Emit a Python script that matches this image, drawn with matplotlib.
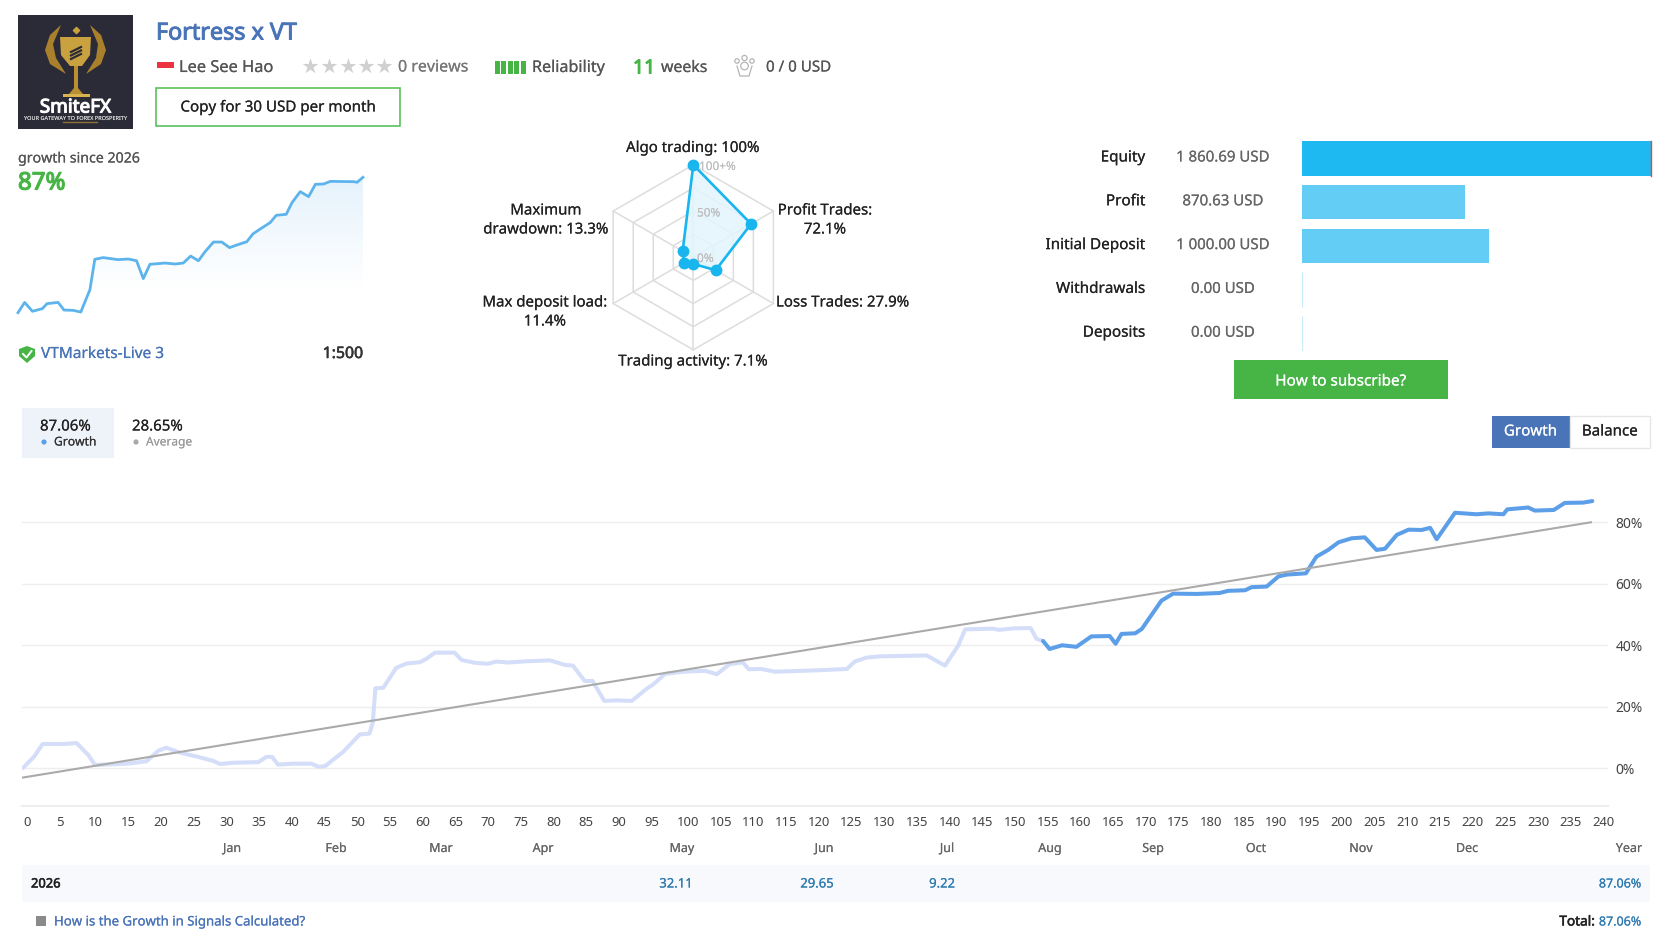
import numpy as np
import matplotlib
matplotlib.use('Agg')
import matplotlib.pyplot as plt
import matplotlib.patheffects as pe
from matplotlib.patches import Rectangle, Polygon, Circle

plt.rcParams['font.family'] = ['Noto Sans', 'DejaVu Sans']

W, H = 1672, 941

# main chart
growth_x = [0, 1.7, 3, 4.6, 6.2, 8.2, 10, 11, 13.8, 16.4, 18.9, 20.7, 21.9, 24, 26.6, 29.1, 30.1, 32.2,
            36, 37.2, 38.1, 39, 41.3, 44.1, 45.2, 46.2, 49, 51.5, 53, 53.5, 53.9, 55.1, 57.1, 58.7, 60.7,
            61.7, 63, 66, 67.1, 69.1, 71.1, 72.4, 74.2, 77, 80.6, 82.9, 84.1, 85.9, 87.1, 88.9, 90.8, 93.1,
            95.4, 96.4, 98.2, 101, 104.3, 106.1, 108.1, 110.1, 111, 112.9, 115, 121.9, 126, 127.2, 129,
            131.1, 138.2, 141, 143, 144.1, 148.4, 149.2, 151.5, 154.1, 155, 156, 157, 158.9, 161.1, 163.4,
            166.2, 167.1, 168, 170.1, 171.1, 174.1, 175.9, 179.5, 183, 184.3, 186.9, 187.9, 190.2, 192,
            193.3, 196.2, 197.8, 199.6, 201.2, 203.2, 205.2, 207, 208.3, 210.1, 211.9, 213.9, 215.2, 216.2,
            217.7, 219, 222.3, 224.1, 226.4, 227, 230.2, 231.2, 234.1, 235.8, 238.6, 240]
growth_y = [0.1, 3.8, 7.9, 7.9, 7.9, 8.2, 4.3, 1.1, 1.3, 1.6, 2.3, 5.7, 6.7, 5.1, 3.8, 2.4, 1.4, 1.8,
            2, 3.7, 3.7, 1.2, 1.5, 1.5, 0.5, 0.7, 5.4, 11, 11.3, 15, 26, 26.2, 32.7, 34.1, 34.5,
            35.6, 37.6, 37.6, 35.2, 34.3, 34, 34.7, 34.4, 34.8, 35.1, 33.6, 33.4, 28.4, 28.4, 21.9, 22.1, 21.9,
            25.9, 27.3, 30.7, 31.4, 31.7, 30.6, 33.9, 34.4, 32.2, 32.3, 31.4, 31.9, 32.3, 34.7, 36,
            36.4, 36.7, 33.4, 39.8, 45.2, 45.4, 45, 45.5, 45.6, 42.1, 41.4, 38.8, 40, 39.5, 42.9,
            43, 40.5, 43.7, 43.9, 45.3, 54.5, 56.8, 56.7, 57, 57.7, 57.9, 58.9, 59.1, 62.4,
            63, 63.4, 68.8, 71, 73.5, 74.8, 75.1, 71, 71.4, 75.9, 77.6, 77.5, 78.2, 74.5,
            79.1, 83.1, 82.6, 82.9, 82.6, 84.2, 84.8, 83.8, 84, 86.3, 86.4, 86.9]
split_x = 156
average_x = [0, 239.8]
average_y = [-3, 80]
x_ticks = list(range(0, 241, 5))
y_ticks = [0, 20, 40, 60, 80]
months = ['Jan', 'Feb', 'Mar', 'Apr', 'May', 'Jun', 'Jul', 'Aug', 'Sep', 'Oct', 'Nov', 'Dec', 'Year']
month_px = [232, 336, 441, 543, 682, 824, 947, 1050, 1153, 1256, 1361, 1467, 1629]

# small growth chart
mini_x = [0, 4.6, 10, 16.9, 20.1, 27.8, 31.9, 38.2, 43.5, 48.6, 49.8, 53.2, 59, 69.4, 76.4, 82.1, 86.8, 91.4,
          101.8, 108.8, 114.5, 119.6, 125, 129.6, 135.4, 141.2, 146.5, 151.6, 158.5, 162.7, 167.8, 174.7,
          178.9, 185.8, 189.8, 195.5, 201.3, 206, 211.7, 216.4, 232.6, 234.9, 239]
mini_y = [0, 6.6, 0.9, 2.6, 5.8, 6.6, 1.7, 1.5, 0.4, 12, 14.6, 34.3, 35.4, 34.1, 34.5, 33.4, 21.9, 31.1,
          31.9, 31.3, 31.9, 36.4, 33.4, 39.2, 45.4, 45.4, 41.8, 43.5, 45.6, 50.6, 53.8, 57.9,
          62.6, 63.2, 70.7, 77.8, 74.6, 82.5, 82.7, 84.4, 84.2, 83.8, 87]

# radar
radar_names = ['Algo trading', 'Profit Trades', 'Loss Trades', 'Trading activity', 'Max deposit load', 'Maximum drawdown']
radar_values = [100, 72.1, 27.9, 7.1, 11.4, 13.3]
radar_rings = [25, 50, 75, 100]

# account bars
bar_names = ['Equity', 'Profit', 'Initial Deposit', 'Withdrawals', 'Deposits']
bar_values = [1860.69, 870.63, 1000.00, 0.00, 0.00]
bar_labels = ['1 860.69 USD', '870.63 USD', '1 000.00 USD', '0.00 USD', '0.00 USD']

BLUE = '#4a74b8'
GREEN = '#46b546'
DARK = '#333333'
GREY = '#666666'
SIZE = 10.9


def px_axes(left, top, right, bottom, **kw):
    return fig.add_axes([left / W, 1 - bottom / H, (right - left) / W, (bottom - top) / H], **kw)


fig = plt.figure(figsize=(W / 100, H / 100), dpi=100, facecolor='white')

# overlay in pixels, for the page furniture
page = fig.add_axes([0, 0, 1, 1], zorder=5)
page.set_xlim(0, W)
page.set_ylim(H, 0)
page.axis('off')


def txt(x, y, s, size=SIZE, color=DARK, ha='left', stroke=0.1, zorder=6):
    # noto has no usable bold here, so a thin stroke thickens the letters
    t = page.text(x, y + 2.5, s, fontsize=size, color=color, ha=ha, va='center', zorder=zorder)
    t.set_path_effects([pe.withStroke(linewidth=stroke, foreground=color)])


def box(x0, y0, x1, y1, fc, ec='none', lw=0, zorder=1):
    page.add_patch(Rectangle((x0, y0), x1 - x0, y1 - y0, fc=fc, ec=ec, lw=lw, zorder=zorder))


# logo
box(18, 15, 133, 129, '#2b2b38', zorder=2)
gold = '#c9a23f'
page.add_patch(Polygon([(60, 37), (91, 37), (90, 55), (82, 66), (70, 66), (61, 55)], fc=gold, zorder=3))
page.add_patch(Polygon([(74, 66), (78, 66), (78, 88), (83, 94), (69, 94), (74, 88)], fc='#b98f32', zorder=3))
page.add_patch(Rectangle((63, 94), 27, 3, fc='#d8b24c', zorder=3))
page.add_patch(Polygon([(61, 25), (50, 35), (45, 50), (50, 64), (66, 74), (56, 58), (53, 44)], fc='#a9812c', zorder=3))
page.add_patch(Polygon([(90, 25), (101, 35), (106, 50), (101, 64), (86, 74), (96, 58), (98, 44)], fc='#a9812c', zorder=3))
for k in range(3):
    page.plot([71, 81], [52 + 3.5 * k, 47 + 3.5 * k], color='#2b2b38', lw=1.6, zorder=4)
page.scatter([75.5], [30], marker='D', s=10, color=gold, zorder=3)
txt(75.5, 105, 'SmiteFX', size=13.6, color='white', ha='center', stroke=0.8)
txt(75.5, 116, 'YOUR GATEWAY TO FOREX PROSPERITY', size=4, color='#d8d8d8', ha='center', stroke=0)
page.plot([63, 97], [122, 122], color='#8c7334', lw=1, zorder=3)

# header
txt(156, 31, 'Fortress x VT', size=16.8, color=BLUE, stroke=0.7)
box(157, 61.5, 174, 68, '#ee3340')
txt(179, 65.5, 'Lee See Hao', size=11.8, color='#555555')
page.scatter([310, 328.5, 347.5, 366, 384], [66, 66, 66, 66, 66], marker='*', s=140, color='#d0d0d0', lw=0)
txt(398, 65, '0 reviews', size=11.5, color='#777777')
page.bar([497, 503.5, 510, 516.5, 523], 13, width=5, bottom=61, color=GREEN)
txt(532, 65.5, 'Reliability', size=11.6, color='#555555')
txt(633, 66, '11', size=14, color=GREEN, stroke=0.8)
txt(661, 65.5, 'weeks', size=11.4, color='#555555')
for cx, cy, r in [(744.5, 58, 2.6), (737, 61, 2.2), (752, 61, 2.2), (744.5, 66, 3.8)]:
    page.add_patch(Circle((cx, cy), r, fc='none', ec='#b5b5b5', lw=0.9))
page.plot([737, 740, 749, 752], [66, 76, 76, 66], color='#b5b5b5', lw=0.9)
txt(766, 65.5, '0 / 0 USD', size=10.9, color='#555555')
box(156, 87.5, 399.5, 126, 'white', ec='#5cc05c', lw=1.2)
txt(278, 105.5, 'Copy for 30 USD per month', ha='center', size=10.9, color='#222222')

# small chart
txt(18, 156.5, 'growth since 2026', size=10.2, color='#555555')
txt(18, 181, '87%', size=17.3, color=GREEN, stroke=0.9)
ax_m = px_axes(18, 170, 363, 320)
ax_m.axis('off')
alpha = np.linspace(1, 0, 256)
rgba = np.ones((256, 1, 4))
rgba[:, :, :3] = [0.90, 0.95, 0.99]
rgba[:, 0, 3] = alpha
im = ax_m.imshow(rgba, extent=(0, 239, 15, 87), aspect='auto', origin='upper', zorder=1)
clip = Polygon(list(zip(mini_x, mini_y)) + [(239, -4.7), (0, -4.7)], transform=ax_m.transData, fc='none', ec='none')
ax_m.add_patch(clip)
im.set_clip_path(clip)
ax_m.set_xlim(0, 239)
ax_m.set_ylim(-4.7, 91.7)
ax_m.plot(mini_x, mini_y, color='#5db4ec', lw=2, zorder=2, solid_joinstyle='round', clip_on=False)
page.add_patch(Polygon([(27, 346), (35, 349), (35, 356), (27, 363), (19, 356), (19, 349)], fc=GREEN, zorder=2))
page.plot([23, 26.5, 31.5], [354, 357.5, 351], color='white', lw=1.4, zorder=3)
txt(41, 351.5, 'VTMarkets-Live 3', size=11.1, color=BLUE)
txt(363, 351.5, '1:500', ha='right', size=11.4, color='#333333', stroke=0.4)

# radar, real polar axes
R = 92.5
cx, cy = 693.3, 257.3
ax_r = px_axes(cx - R, cy - R, cx + R, cy + R, projection='polar', zorder=2)
ax_r.set_theta_zero_location('N')
ax_r.set_theta_direction(-1)
ax_r.set_ylim(0, 100)
ax_r.axis('off')
ax_r.patch.set_alpha(0)
angles = np.deg2rad(np.arange(0, 360, 60))
closed = np.append(angles, angles[0])
for ring in radar_rings:
    ax_r.plot(closed, [ring] * 7, color='#dddddd', lw=1.1, clip_on=False, zorder=1)
for a in angles:
    ax_r.plot([a, a], [0, 100], color='#dddddd', lw=1.1, clip_on=False, zorder=1)
vals = radar_values + radar_values[:1]
ax_r.fill(closed, vals, color='#e3f5fd', alpha=0.85, zorder=2)
ax_r.plot(closed, vals, color='#18b5ef', lw=1.9, clip_on=False, zorder=3)
ax_r.plot(angles, radar_values, 'o', color='#18b5ef', ms=7.5, clip_on=False, zorder=4)
txt(699, 164, '100+%', size=8.5, color='#bdbdbd', stroke=0)
txt(697, 210.5, '50%', size=8.5, color='#bdbdbd', stroke=0)
txt(697, 256, '0%', size=8.5, color='#bdbdbd', stroke=0)
txt(693, 146, 'Algo trading: 100%', ha='center', size=10.8, color='#222222')
txt(546, 208.5, 'Maximum', ha='center', size=10.8, color='#222222')
txt(546, 227.5, 'drawdown: 13.3%', ha='center', size=10.8, color='#222222')
txt(825, 208.5, 'Profit Trades:', ha='center', size=10.8, color='#222222')
txt(825, 227.5, '72.1%', ha='center', size=10.8, color='#222222')
txt(776, 300.5, 'Loss Trades: 27.9%', size=10.8, color='#222222')
txt(545, 300.5, 'Max deposit load:', ha='center', size=10.8, color='#222222')
txt(545, 319.5, '11.4%', ha='center', size=10.8, color='#222222')
txt(693, 359.5, 'Trading activity: 7.1%', ha='center', size=10.8, color='#222222')

# account bars
ax_b = px_axes(1302, 141.3, 1650.5, 350.7)
bar_pos = np.arange(len(bar_values))
colors = ['#1fb9f1'] + ['#64cdf5'] * 2 + ['#c8ecfa'] * 2
ax_b.barh(bar_pos, bar_values, height=0.785, color=colors)
ax_b.vlines([0, 0], [2.6, 3.6], [3.4, 4.4], color='#c8ecfa', lw=0.9)
ax_b.plot([bar_values[0], bar_values[0]], [-0.39, 0.39], color='#e8453c', lw=1, clip_on=False)
ax_b.set_xlim(0, bar_values[0])
ax_b.set_ylim(4.4, -0.394)
ax_b.axis('off')
for i, (name, lab) in enumerate(zip(bar_names, bar_labels)):
    y = 155.5 + 43.8 * i
    txt(1145.5, y, name, ha='right', size=11, color='#222222')
    txt(1223, y, lab, ha='center', size=10.8, color=GREY)
box(1234, 360, 1448, 399, GREEN)
txt(1341, 379.5, 'How to subscribe?', ha='center', size=11, color='white')
box(1491.5, 415.5, 1569.5, 447.5, BLUE)
box(1569.5, 415.5, 1650, 447.5, 'white', ec='#e6e6e6', lw=1)
txt(1530.5, 429.5, 'Growth', ha='center', color='white')
txt(1610, 429.5, 'Balance', ha='center', color='#222222')

# legend tabs
box(22, 408, 113.5, 458, '#eef3fa')
txt(40, 424.5, '87.06%', size=10.8, color='#222222')
page.add_patch(Circle((44, 442), 2.6, fc='#5b9fe8', ec='none', zorder=3))
txt(54, 439.5, 'Growth', size=8.7, color='#333333')
txt(132, 424.5, '28.65%', size=10.8, color='#222222')
page.add_patch(Circle((136, 442), 2.6, fc='#aaaaaa', ec='none', zorder=3))
txt(146, 439.5, 'Average', size=8.6, color='#999999', stroke=0)

# main growth chart
ax = px_axes(22, 470, 1608, 806, zorder=2)
ax.patch.set_alpha(0)
ax.set_xlim(-0.15, 242.4)
ax.set_ylim(-12.26, 97)
gx = np.array(growth_x)
gy = np.array(growth_y)
old = gx <= split_x
new = gx >= split_x
ax.plot(gx[old], gy[old], color='#d5def8', lw=2.9, solid_joinstyle='round', solid_capstyle='round', zorder=3)
ax.plot(gx[new], gy[new], color='#5c9fe8', lw=2.9, solid_joinstyle='round', solid_capstyle='round', zorder=4)
ax.plot(average_x, average_y, color='#aaaaaa', lw=1.5, zorder=5)
ax.set_xticks(x_ticks)
ax.set_xticklabels([str(v) for v in x_ticks], ha='left', fontsize=9.4, color='#444444')
ax.set_yticks(y_ticks)
ax.set_yticklabels([f'{v}%' for v in y_ticks], fontsize=10, color='#444444')
ax.yaxis.tick_right()
ax.tick_params(axis='x', length=0, pad=7.2)
ax.tick_params(axis='y', length=0, pad=5.5)
ax.grid(axis='y', color='#eeeeee', lw=1)
ax.set_axisbelow(True)
for side in ['top', 'left', 'right']:
    ax.spines[side].set_visible(False)
ax.spines['bottom'].set_color('#eeeeee')
ax.spines['bottom'].set_linewidth(1.5)

for name, x in zip(months, month_px):
    txt(x, 846, name, size=9, color=GREY, ha='center')

# yearly table
box(22, 865, 1650, 902, '#f7f9fd')
txt(31, 881.5, '2026', size=9.3, color='#222222', stroke=0.4)
val_color = '#2f7bb0'
txt(676, 881.5, '32.11', size=9.4, color=val_color, ha='center')
txt(817, 881.5, '29.65', size=9.4, color=val_color, ha='center')
txt(942, 881.5, '9.22', size=9.4, color=val_color, ha='center')
txt(1641, 881.5, '87.06%', size=9, color=val_color, ha='right')
box(36, 916, 46, 926, '#8a8a8a')
txt(54, 919.5, 'How is the Growth in Signals Calculated?', size=9.5, color=BLUE)
txt(1641, 919.5, '87.06%', size=9, color=val_color, ha='right')
txt(1595, 919.5, 'Total:', size=9.8, color='#222222', ha='right', stroke=0.4)

fig.savefig('out.png', dpi=100, facecolor='white')
